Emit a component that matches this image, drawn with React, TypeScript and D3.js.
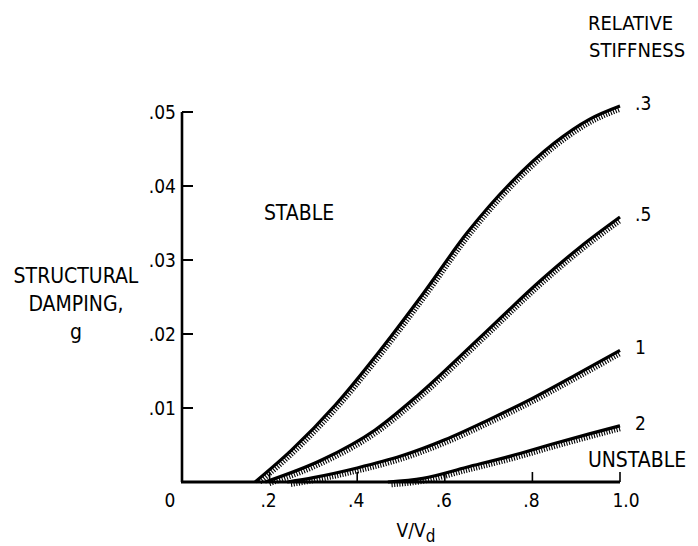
import React, { useEffect, useRef } from 'react';
import * as d3 from 'd3';

// V/Vd vs structural damping g
const stiffnessLabels = ['.3', '.5', '1', '2'];
const curve03: [number, number][] = [[0.167, 0], [0.25, 0.0043], [0.35, 0.0104], [0.45, 0.0176], [0.55, 0.0254], [0.65, 0.0336], [0.75, 0.0404], [0.85, 0.0458], [0.93, 0.0490], [1.0, 0.0508]];
const curve05: [number, number][] = [[0.19, 0], [0.32, 0.0030], [0.44, 0.0070], [0.54, 0.0118], [0.68, 0.0195], [0.82, 0.0273], [0.91, 0.0318], [1.0, 0.0358]];
const curve1: [number, number][] = [[0.24, 0], [0.30, 0.0006], [0.40, 0.0019], [0.50, 0.0035], [0.60, 0.0057], [0.70, 0.0084], [0.80, 0.0113], [0.90, 0.0145], [1.0, 0.0178]];
const curve2: [number, number][] = [[0.47, 0], [0.55, 0.0005], [0.65, 0.0020], [0.75, 0.0035], [0.85, 0.0052], [0.93, 0.0065], [1.0, 0.0076]];
const curves = [curve03, curve05, curve1, curve2];

const xTicks = [0.2, 0.4, 0.6, 0.8, 1.0];
const xTickLabels = ['.2', '.4', '.6', '.8', '1.0'];
const yTicks = [0.01, 0.02, 0.03, 0.04, 0.05];
const yTickLabels = ['.01', '.02', '.03', '.04', '.05'];

const W = 698, H = 546;
const FONT = '"DejaVu Sans Condensed", "Liberation Sans Narrow", "DejaVu Sans", sans-serif';

export default function App() {
  const ref = useRef<SVGSVGElement>(null);

  useEffect(() => {
    const svg = d3.select(ref.current);
    svg.selectAll('*').remove();

    const x = d3.scaleLinear().domain([0, 1]).range([182, 620]);
    const y = d3.scaleLinear().domain([0, 0.05]).range([482, 112]);

    const line = d3.line<[number, number]>()
      .x(d => x(d[0]))
      .y(d => y(d[1]))
      .curve(d3.curveMonotoneX);

    // curves with hatching on the unstable (lower) side
    curves.forEach((c, i) => {
      const path = svg.append('path')
        .attr('d', line(c))
        .attr('fill', 'none')
        .attr('stroke', '#000')
        .attr('stroke-width', 3.2);
      const node = path.node() as SVGPathElement;
      const len = node.getTotalLength();
      const hatch = d3.path();
      for (let s = 4; s < len - 1; s += 2.6) {
        const p = node.getPointAtLength(s);
        const q = node.getPointAtLength(Math.min(len, s + 0.5));
        let tx = q.x - p.x, ty = q.y - p.y;
        const n = Math.hypot(tx, ty) || 1;
        tx /= n; ty /= n;
        const nx = -ty, ny = tx;
        hatch.moveTo(p.x, p.y);
        hatch.lineTo(p.x + nx * 5.5, p.y + ny * 5.5);
      }
      svg.append('path')
        .attr('d', hatch.toString())
        .attr('stroke', '#000')
        .attr('stroke-width', 1.1)
        .attr('fill', 'none');

      const end = c[c.length - 1];
      svg.append('text')
        .attr('x', x(end[0]) + 15)
        .attr('y', y(end[1]) + 4)
        .attr('font-size', 19)
        .text(stiffnessLabels[i]);
    });

    // axes
    svg.append('line')
      .attr('x1', x(0)).attr('x2', x(0))
      .attr('y1', y(0.05)).attr('y2', y(0))
      .attr('stroke', '#000').attr('stroke-width', 2.6);
    svg.append('line')
      .attr('x1', x(0) - 1).attr('x2', x(1))
      .attr('y1', y(0)).attr('y2', y(0))
      .attr('stroke', '#000').attr('stroke-width', 2.8);

    svg.selectAll('.ytick').data(yTicks).join('line')
      .attr('x1', x(0)).attr('x2', x(0) + 11)
      .attr('y1', d => y(d)).attr('y2', d => y(d))
      .attr('stroke', '#000').attr('stroke-width', 2);
    svg.selectAll('.ylab').data(yTicks).join('text')
      .attr('x', x(0) - 6)
      .attr('y', d => y(d) + 7)
      .attr('text-anchor', 'end')
      .attr('font-size', 19)
      .text((d, i) => yTickLabels[i]);

    svg.selectAll('.xtick').data(xTicks).join('line')
      .attr('x1', d => x(d)).attr('x2', d => x(d))
      .attr('y1', y(0)).attr('y2', y(0) - 10)
      .attr('stroke', '#000').attr('stroke-width', 1.6);
    svg.selectAll('.xlab').data(xTicks).join('text')
      .attr('x', (d, i) => x(d) + (i === xTicks.length - 1 ? 6 : -1))
      .attr('y', 507)
      .attr('text-anchor', 'middle')
      .attr('font-size', 19)
      .text((d, i) => xTickLabels[i]);
    svg.append('text')
      .attr('x', x(0) - 12).attr('y', 507)
      .attr('text-anchor', 'middle').attr('font-size', 19)
      .text('0');

    // axis titles
    const xt = svg.append('text')
      .attr('x', 416).attr('y', 537)
      .attr('text-anchor', 'middle').attr('font-size', 19);
    xt.append('tspan').text('V/V');
    xt.append('tspan').attr('dy', 5).attr('font-size', 17).text('d');

    const yt = svg.append('text').attr('text-anchor', 'middle').attr('font-size', 21);
    ['STRUCTURAL', 'DAMPING,', 'g'].forEach((t, i) => {
      yt.append('tspan').attr('x', 76).attr('y', 283 + i * 28).text(t);
    });

    svg.append('text')
      .attr('x', 588).attr('y', 30).attr('font-size', 20)
      .text('RELATIVE');
    svg.append('text')
      .attr('x', 589).attr('y', 57).attr('font-size', 20)
      .text('STIFFNESS');

    svg.append('text')
      .attr('x', 299).attr('y', 220).attr('text-anchor', 'middle').attr('font-size', 21)
      .text('STABLE');
    svg.append('text')
      .attr('x', 637).attr('y', 467).attr('text-anchor', 'middle').attr('font-size', 21)
      .text('UNSTABLE');
  }, []);

  return (
    <svg ref={ref} width={W} height={H}
      style={{ position: 'absolute', left: 0, top: 0, background: '#fff', fontFamily: FONT }} />
  );
}
